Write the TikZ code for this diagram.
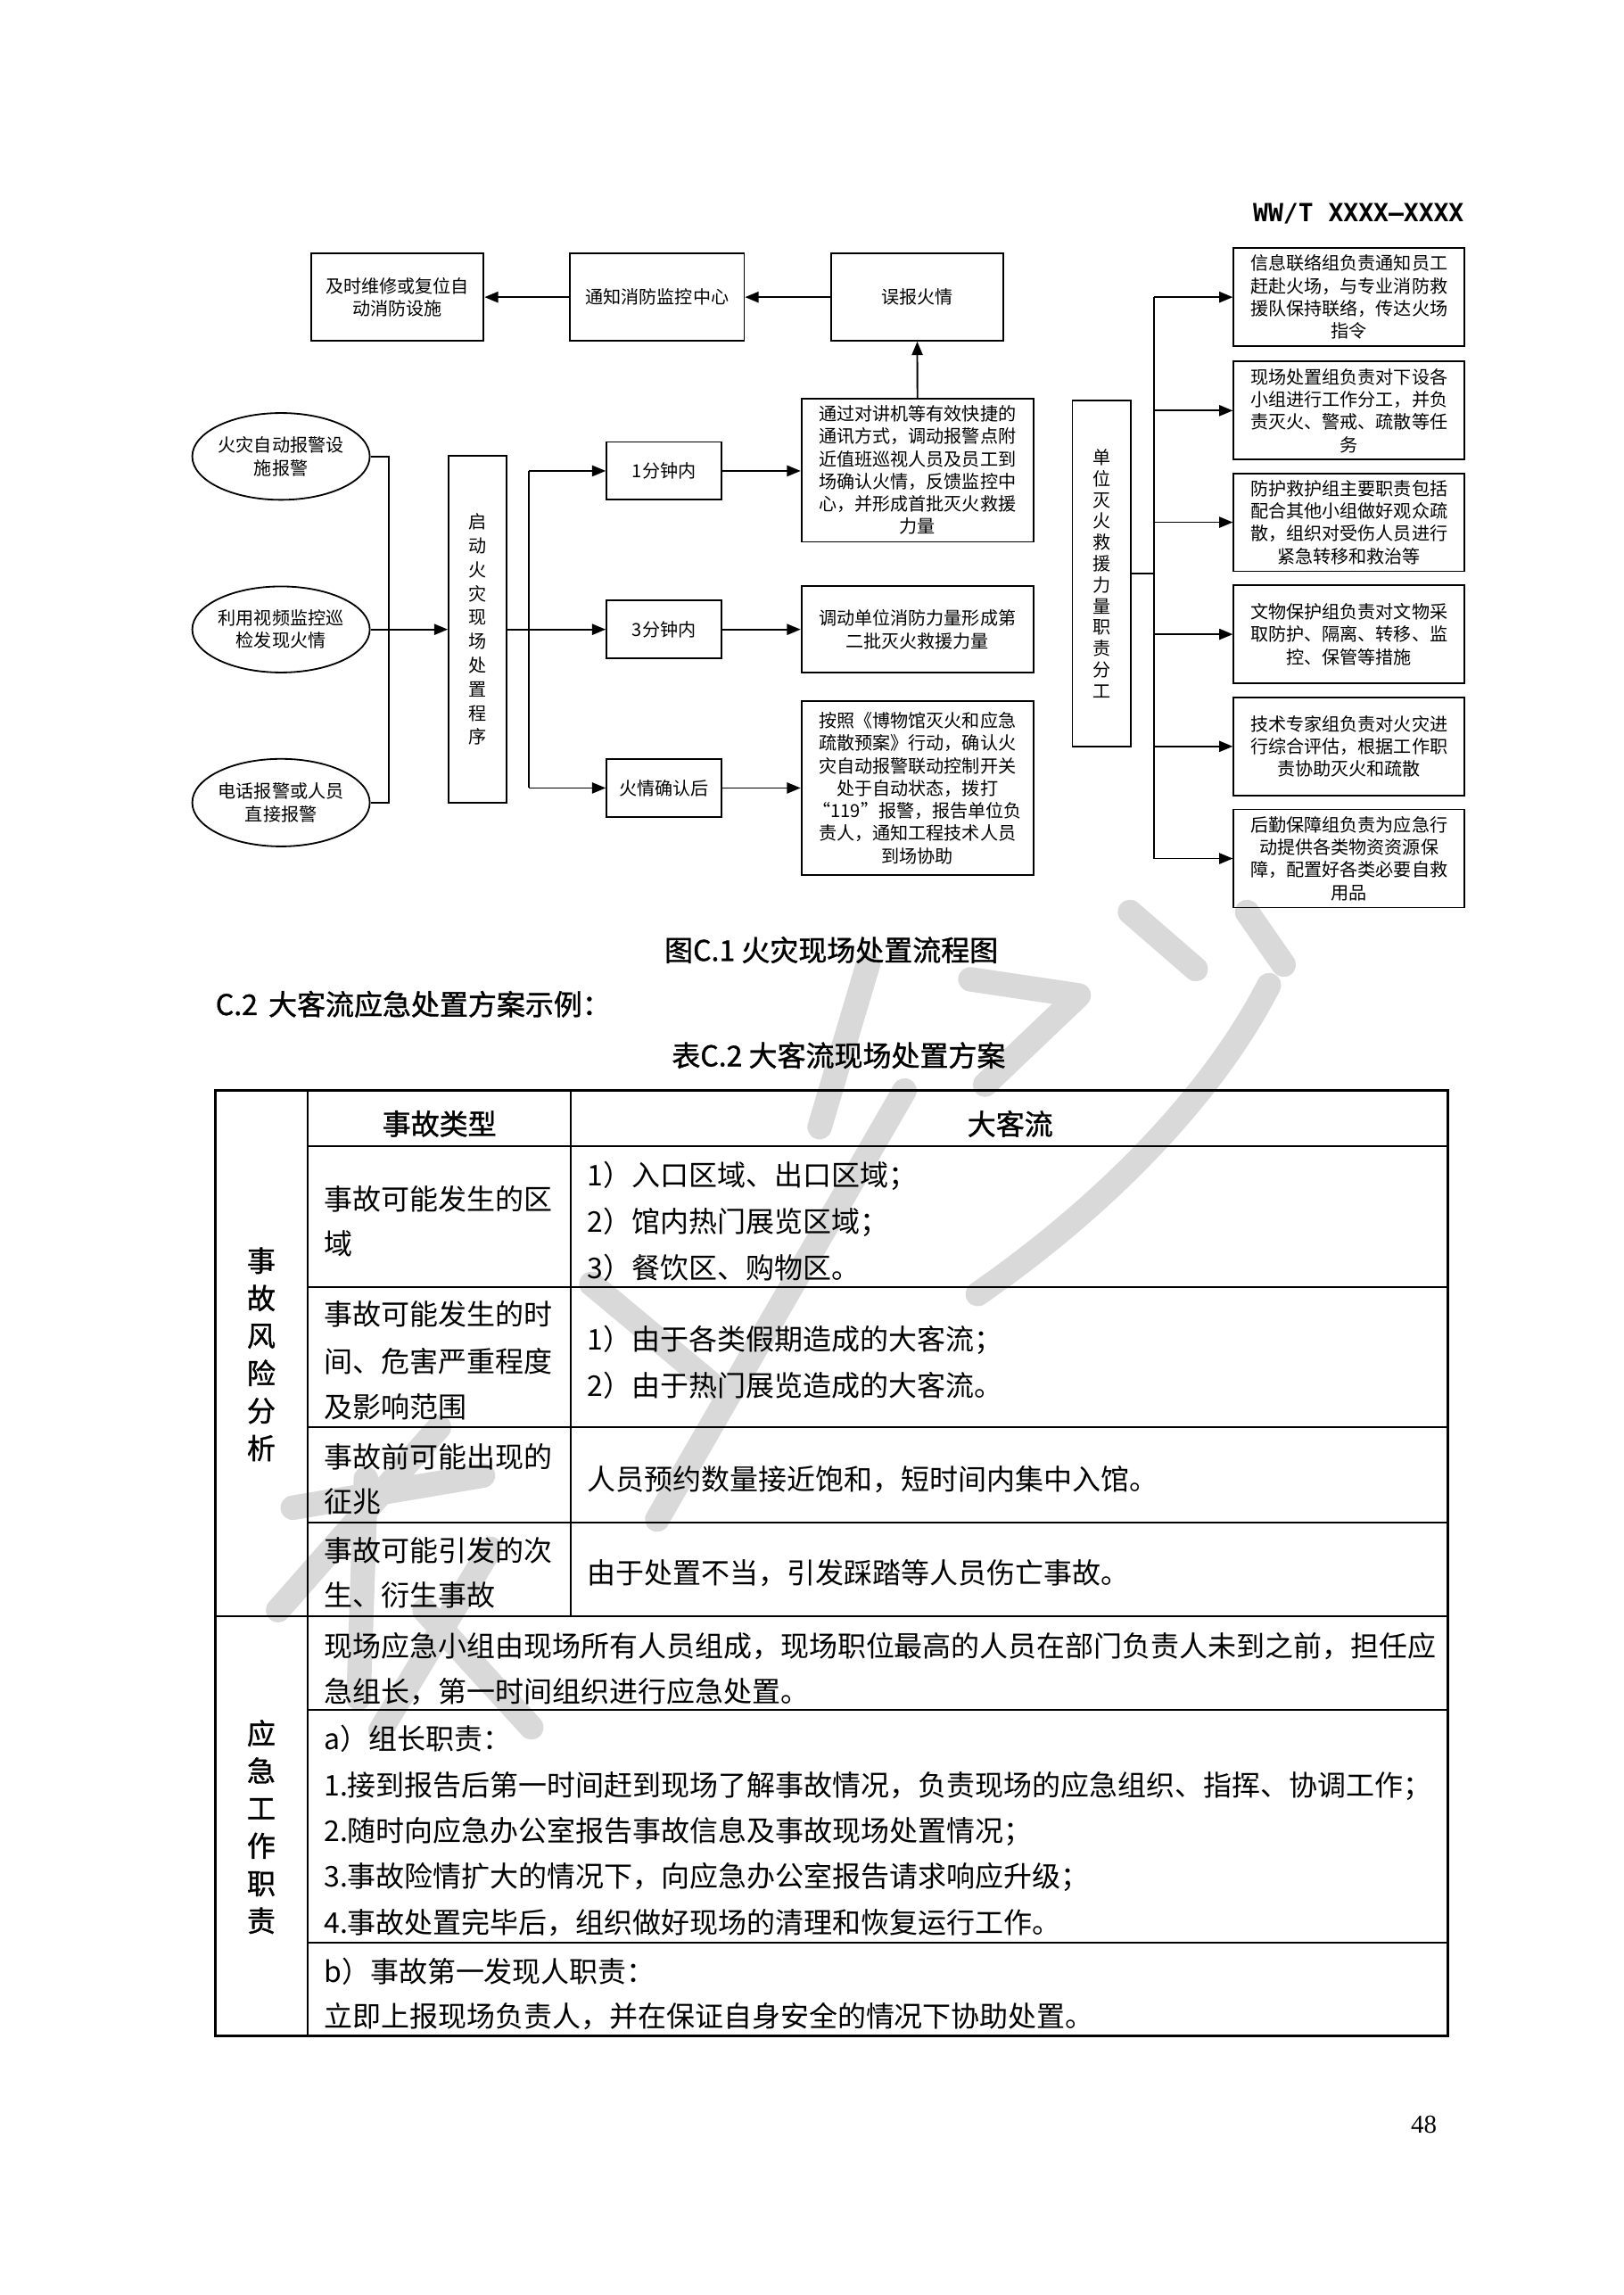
\documentclass[tikz,border=0pt]{standalone}
\usepackage{fontspec}
\setmainfont{Liberation Serif}
\newfontfamily\cjk{Noto Sans CJK SC}
\newfontfamily\cjkb[FakeBold=1.2]{Noto Sans CJK SC}
\newfontfamily\monob{DejaVu Sans Mono}
\usetikzlibrary{arrows.meta,shapes.geometric}
\def\u{0.18936mm}
\begin{document}
\begin{tikzpicture}[x=0.18936mm,y=-0.18936mm,
  fbox/.style={draw,line width=0.6pt,inner sep=0pt,align=center,
    font=\cjk\fontsize{6.6}{8.3}\selectfont},
  ell/.style={fbox,ellipse},
  vtxt/.style={fbox,font=\cjk\fontsize{6.6}{8.8}\selectfont},
  vtxtb/.style={fbox,font=\cjk\fontsize{6.6}{7.8}\selectfont},
  arr/.style={line width=0.6pt,-{Triangle[length=5pt,width=4pt]}},
  ln/.style={line width=0.6pt},
  tin/.style={line width=0.6pt},
  tout/.style={line width=1pt},
  tt/.style={anchor=base west,inner sep=0pt,font=\cjk\fontsize{10.5}{12}\selectfont},
  th/.style={inner sep=0pt,font=\cjkb\fontsize{10.5}{12}\selectfont},
  vlab/.style={inner sep=0pt,align=center,font=\cjkb\fontsize{10.5}{13.8}\selectfont},
  captxt/.style={inner sep=0pt,font=\cjkb\fontsize{10.5}{12}\selectfont},
  wm/.style={line width=9pt,black!15,line cap=round,line join=round}]
\useasboundingbox (0,0) rectangle (1109,1567.8);

% ---------- watermark ----------
\begin{scope}[wm]
\draw (772,623) -- (817,662);
\draw (852,623) -- (877,659);
\draw (663,669) -- (737,680) -- (673,741);
\draw (867,673) .. controls (830,745) and (760,820) .. (668,884);
\draw (593,659) -- (560,770);
\draw (618,745) -- (449,1038);
\draw (404,877) -- (494,952);
\draw (300,975) -- (190,1100);
\draw (200,1030) -- (330,1008);
\draw (250,1010) -- (245,1160);
\draw (335,1058) -- (260,1182);
\draw (290,1100) -- (363,1180);
\end{scope}

% ---------- header ----------
\node[anchor=base east,inner sep=0pt,font=\monob\bfseries\fontsize{9.2}{10}\selectfont] (hdr) at (1000.5,151.2) {WW/T XXXX—XXXX};

% ---------- flowchart ----------
\node[fbox,minimum width=118*\u,minimum height=59.5*\u] (A) at (271.5,203) {及时维修或复位自\\动消防设施};
\node[fbox,minimum width=119*\u,minimum height=59.5*\u] (B) at (449,203) {通知消防监控中心};
\node[fbox,minimum width=118*\u,minimum height=59.5*\u] (C) at (626.7,203) {误报火情};

\node[fbox,minimum width=158.5*\u,minimum height=98*\u] (D) at (626.8,321.2)
  {通过对讲机等有效快捷的\\通讯方式，调动报警点附\\近值班巡视人员及员工到\\场确认火情，反馈监控中\\心，并形成首批灭火救援\\力量};
\node[fbox,minimum width=158.5*\u,minimum height=59*\u] (H2) at (626.8,430)
  {调动单位消防力量形成第\\二批灭火救援力量};
\node[fbox,minimum width=158.5*\u,minimum height=119*\u] (H3) at (626.8,538.4)
  {按照《博物馆灭火和应急\\疏散预案》行动，确认火\\灾自动报警联动控制开关\\处于自动状态，拨打\\“119”报警，报告单位负\\责人，通知工程技术人员\\到场协助};

\node[fbox,minimum width=78.6*\u,minimum height=39.5*\u] (G1) at (453.7,321.7) {1分钟内};
\node[fbox,minimum width=78.6*\u,minimum height=39.5*\u] (G2) at (453.7,430) {3分钟内};
\node[fbox,minimum width=78.6*\u,minimum height=39.5*\u] (G3) at (453.7,538.3) {火情确认后};

\node[ell,minimum width=118*\u,minimum height=59.3*\u] (E1) at (192,311.8) {火灾自动报警设\\施报警};
\node[ell,minimum width=118*\u,minimum height=58.8*\u] (E2) at (192,430) {利用视频监控巡\\检发现火情};
\node[ell,minimum width=118*\u,minimum height=59.8*\u] (E3) at (192,548.3) {电话报警或人员\\直接报警};

\node[vtxt,minimum width=39.6*\u,minimum height=236.8*\u] (F) at (326.3,430)
  {启\\动\\火\\灾\\现\\场\\处\\置\\程\\序};

\node[vtxtb,minimum width=39.8*\u,minimum height=236.2*\u] (I) at (752.6,391.8)
  {单\\位\\灭\\火\\救\\援\\力\\量\\职\\责\\分\\工};

\node[fbox,minimum width=157.7*\u,minimum height=67*\u] (J1) at (921.7,203)
  {信息联络组负责通知员工\\赶赴火场，与专业消防救\\援队保持联络，传达火场\\指令};
\node[fbox,minimum width=157.7*\u,minimum height=67*\u] (J2) at (921.7,280.5)
  {现场处置组负责对下设各\\小组进行工作分工，并负\\责灭火、警戒、疏散等任\\务};
\node[fbox,minimum width=157.7*\u,minimum height=67*\u] (J3) at (921.7,356.8)
  {防护救护组主要职责包括\\配合其他小组做好观众疏\\散，组织对受伤人员进行\\紧急转移和救治等};
\node[fbox,minimum width=157.7*\u,minimum height=67*\u] (J4) at (921.7,433.3)
  {文物保护组负责对文物采\\取防护、隔离、转移、监\\控、保管等措施};
\node[fbox,minimum width=157.7*\u,minimum height=67*\u] (J5) at (921.7,509.9)
  {技术专家组负责对火灾进\\行综合评估，根据工作职\\责协助灭火和疏散};
\node[fbox,minimum width=157.7*\u,minimum height=67*\u] (J6) at (921.7,586.5)
  {后勤保障组负责为应急行\\动提供各类物资资源保\\障，配置好各类必要自救\\用品};

% connectors
\draw[arr] (C.west) -- (B.east);
\draw[arr] (B.west) -- (A.east);
\draw[arr] (D.north) -- (C.south);

\coordinate (jL) at (265.9,430);
\draw[ln] (E1.east) -- (E1.east -| jL) -- (E3.east -| jL) -- (E3.east);
\draw[arr] (E2.east) -- (F.west);

\coordinate (jM) at (361.2,430);
\draw[arr] (F.east) -- (G2.west);
\draw[ln] (jM |- G1.west) -- (jM |- G3.west);
\draw[arr] (jM |- G1.west) -- (G1.west);
\draw[arr] (jM |- G3.west) -- (G3.west);

\draw[arr] (G1.east) -- (G1.east -| D.west);
\draw[arr] (G2.east) -- (G2.east -| H2.west);
\draw[arr] (G3.east) -- (G3.east -| H3.west);

\coordinate (jR) at (788.3,391.8);
\draw[ln] (I.east) -- (jR);
\draw[ln] (jR |- J1.west) -- (jR |- J6.west);
\foreach \k in {1,...,6} {\draw[arr] (jR |- J\k.west) -- (J\k.west);}

% ---------- captions ----------
\node[captxt,anchor=base] (cap1) at (568,656.4) {图C.1 火灾现场处置流程图};
\node[captxt,anchor=base west] (cap2) at (147,693.4) {C.2\hspace{4pt}大客流应急处置方案示例：};
\node[captxt,anchor=base] (cap3) at (573,728.4) {表C.2 大客流现场处置方案};

% ---------- table ----------
\draw[tin] (210,745) -- (210,1391);
\draw[tin] (390,745) -- (390,1104);
\draw[tin] (210,783) -- (989,783);
\draw[tin] (210,879) -- (989,879);
\draw[tin] (210,975) -- (989,975);
\draw[tin] (210,1040) -- (989,1040);
\draw[tin] (147,1104) -- (989,1104);
\draw[tin] (210,1168) -- (989,1168);
\draw[tin] (210,1327) -- (989,1327);
\draw[tout] (147,745) rectangle (989,1391);

\node[vlab] (v1) at (178.5,925.2) {事\\故\\风\\险\\分\\析};
\node[vlab] (v2) at (178.5,1248) {应\\急\\工\\作\\职\\责};
\node[th] (h1) at (300.2,767.7) {事故类型};
\node[th] (h2) at (690.2,767.7) {大客流};

\node[tt] (l1) at (221,826.4) {事故可能发生的区};
\node[tt] (l2) at (221,856.8) {域};
\node[tt] (r1) at (401,810) {1）入口区域、出口区域；};
\node[tt] (r2) at (401,841.7) {2）馆内热门展览区域；};
\node[tt] (r3) at (401,873.4) {3）餐饮区、购物区。};
\node[tt] (l3) at (221,905.4) {事故可能发生的时};
\node[tt] (l4) at (221,937.3) {间、危害严重程度};
\node[tt] (l5) at (221,968.8) {及影响范围};
\node[tt] (r4) at (401,922) {1）由于各类假期造成的大客流；};
\node[tt] (r5) at (401,953.7) {2）由于热门展览造成的大客流。};
\node[tt] (l6) at (221,1002.6) {事故前可能出现的};
\node[tt] (l7) at (221,1033) {征兆};
\node[tt] (r6) at (401,1017.8) {人员预约数量接近饱和，短时间内集中入馆。};
\node[tt] (l8) at (221,1066.8) {事故可能引发的次};
\node[tt] (l9) at (221,1097) {生、衍生事故};
\node[tt] (r7) at (401,1082) {由于处置不当，引发踩踏等人员伤亡事故。};

\node[tt] (s1) at (221,1131.6) {现场应急小组由现场所有人员组成，现场职位最高的人员在部门负责人未到之前，担任应};
\node[tt] (s2) at (221,1162.9) {急组长，第一时间组织进行应急处置。};
\node[tt] (s3) at (221,1195.3) {a）组长职责：};
\node[tt] (s4) at (221,1226.7) {1.接到报告后第一时间赶到现场了解事故情况，负责现场的应急组织、指挥、协调工作；};
\node[tt] (s5) at (221,1258) {2.随时向应急办公室报告事故信息及事故现场处置情况；};
\node[tt] (s6) at (221,1289.3) {3.事故险情扩大的情况下，向应急办公室报告请求响应升级；};
\node[tt] (s7) at (221,1320.7) {4.事故处置完毕后，组织做好现场的清理和恢复运行工作。};
\node[tt] (s8) at (221,1354.1) {b）事故第一发现人职责：};
\node[tt] (s9) at (221,1384.5) {立即上报现场负责人，并在保证自身安全的情况下协助处置。};

% ---------- page number ----------
\node[anchor=base east,inner sep=0pt,font=\fontsize{9.5}{10}\selectfont] (pg) at (982,1457) {48};
\end{tikzpicture}
\end{document}
